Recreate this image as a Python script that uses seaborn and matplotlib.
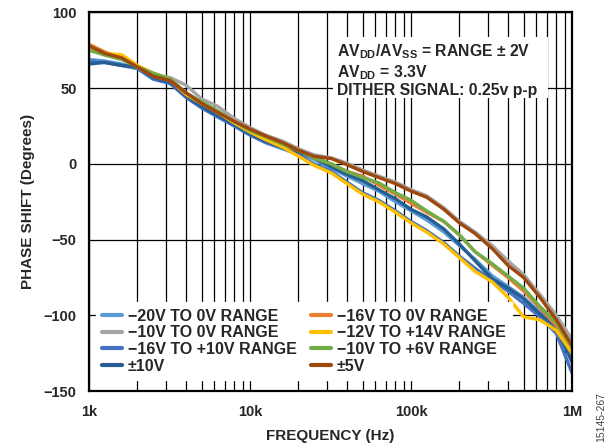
import matplotlib
matplotlib.use("Agg")
import matplotlib.pyplot as plt
import matplotlib.ticker as mticker
from matplotlib.patches import Rectangle
import numpy as np
import pandas as pd
import seaborn as sns

# frequency grid (Hz)
freq = [1e3, 1.25e3, 1.6e3, 2e3, 2.5e3, 3.2e3, 4e3, 5e3, 6.3e3, 8e3,
        10e3, 12.5e3, 16e3, 20e3, 25e3, 32e3, 40e3, 50e3, 63e3, 80e3,
        100e3, 125e3, 160e3, 200e3, 250e3, 320e3, 400e3, 500e3, 630e3, 800e3, 1e6]

# phase shift (degrees) per input range
ph_20_0 = [69, 68, 66, 63, 57, 54, 45, 38, 32, 26, 20, 15.5, 11, 7.5, 3, -3, -8, -13, -18, -25,
           -31, -37, -45, -54, -63, -74, -81, -88, -98, -108, -127]
ph_10_0 = [76, 72, 69, 65, 59, 57, 52, 43, 38, 30, 24, 19, 15, 10, 6, 4, 0.5, -4, -8, -12,
           -17, -21, -29, -38, -45, -54, -64, -73, -86, -100, -116]
ph_16_p10 = [68, 67, 65, 63, 56, 53, 44, 37, 31, 25, 19, 14, 10, 6, 0, -5, -12, -19, -24, -31,
             -38, -44, -52, -61, -69, -77, -84, -92, -101, -112, -138]
ph_pm10 = [66, 67, 65, 64, 57, 54, 45, 38, 32, 26, 20, 15, 11, 8, 4, -2, -7, -11, -17, -23,
           -30, -35, -43, -53, -64, -76, -82, -89, -99, -108, -131]
ph_16_0 = [79, 74, 70, 64, 58, 55, 46, 40, 34, 28, 22, 18, 13, 9, 4, 0, -5, -8, -14, -20,
           -26, -32, -38, -47, -58, -67, -75, -84, -95, -107, -122]
ph_12_p14 = [76, 73, 72, 65, 60, 56, 46, 40, 34, 27, 21, 16, 11, 5, -1, -6, -13, -20, -25, -32,
             -39, -45, -53, -62, -71, -78, -88, -101, -103, -110, -125]
ph_10_p6 = [75, 72, 69, 64, 60, 56, 47, 41, 35, 28, 22, 18, 13, 9, 4, 0, -5, -9, -12.5, -19,
            -24, -31, -38, -47, -58, -66, -74, -82, -94, -105, -121]
ph_pm5 = [78, 73, 70, 64, 58, 55, 47, 40, 34, 28, 23, 18.5, 14, 9, 5, 3.5, -0.5, -5, -9, -13,
          -18, -22, -30, -39, -46, -56, -67, -75, -88, -103, -120]

series_names = ["−20V TO 0V RANGE", "−10V TO 0V RANGE", "−16V TO +10V RANGE", "±10V",
                "−16V TO 0V RANGE", "−12V TO +14V RANGE", "−10V TO +6V RANGE", "±5V"]
series_vals = [ph_20_0, ph_10_0, ph_16_p10, ph_pm10, ph_16_0, ph_12_p14, ph_10_p6, ph_pm5]
colors = ["#5B9BD5", "#A5A5A5", "#4472C4", "#255E91",
          "#ED7D31", "#FFC000", "#70AD47", "#9E480E"]

df = pd.concat(
    [pd.DataFrame({"freq": freq, "phase": v, "range": n}) for n, v in zip(series_names, series_vals)],
    ignore_index=True,
)

sns.set_style("white")
plt.rcParams["font.family"] = ["Liberation Sans", "DejaVu Sans"]
plt.rcParams["font.weight"] = "bold"
plt.rcParams["mathtext.fontset"] = "custom"
plt.rcParams["mathtext.rm"] = "Liberation Sans:bold"
plt.rcParams["mathtext.it"] = "Liberation Sans:bold"
plt.rcParams["mathtext.bf"] = "Liberation Sans:bold"

fig = plt.figure(figsize=(6.1, 4.44), dpi=100)
ax = fig.add_axes([89 / 610, 53 / 444, 483 / 610, 378.5 / 444])

# draw order so the overlaps look like the original
draw_order = [1, 4, 5, 0, 2, 3, 6, 7]
for i in draw_order:
    sub = df[df["range"] == series_names[i]]
    sns.lineplot(data=sub, x="freq", y="phase", color=colors[i], lw=2.4,
                 label=series_names[i], ax=ax, zorder=2 + i * 0.01)

ax.set_xscale("log")
ax.set_xlim(1e3, 1e6)
ax.set_ylim(-150, 100)
ax.set_yticks([-150, -100, -50, 0, 50, 100])
ax.set_yticklabels(["−150", "−100", "−50", "0", "50", "100"])
ax.xaxis.set_major_locator(mticker.FixedLocator([1e3, 1e4, 1e5, 1e6]))
ax.set_xticklabels(["1k", "10k", "100k", "1M"])
ax.xaxis.set_minor_locator(mticker.LogLocator(base=10, subs=np.arange(2, 10)))
ax.xaxis.set_minor_formatter(mticker.NullFormatter())
ax.tick_params(axis="both", which="both", length=0, labelsize=10.5)
ax.tick_params(axis="x", pad=10)
ax.tick_params(axis="y", pad=9)

ax.set_axisbelow(True)
ax.grid(which="both", axis="x", color="black", lw=0.9)
ax.grid(which="major", axis="y", color="black", lw=0.9)
for sp in ax.spines.values():
    sp.set_color("black")
    sp.set_linewidth(1.6)

ax.set_xlabel("FREQUENCY (Hz)", fontsize=11, fontweight="bold", labelpad=7)
ax.set_ylabel("PHASE SHIFT (Degrees)", fontsize=11, fontweight="bold", labelpad=6)

# white box behind the conditions text
ax.add_patch(Rectangle((0.505, 0.774), 0.445, 0.161, transform=ax.transAxes,
                       facecolor="white", edgecolor="none", zorder=1))
ax.text(0.513, 0.92,
        "AV$_{DD}$/AV$_{SS}$ = RANGE ± 2V\nAV$_{DD}$ = 3.3V\nDITHER SIGNAL: 0.25v p-p",
        transform=ax.transAxes, ha="left", va="top", fontsize=11.3, fontweight="bold",
        linespacing=1.1, zorder=3)

handles, labels = ax.get_legend_handles_labels()
order = [labels.index(n) for n in series_names]
leg = ax.legend([handles[k] for k in order], [labels[k] for k in order],
                ncol=2, loc="lower left", bbox_to_anchor=(0.0145, 0.029),
                borderaxespad=0, frameon=True, fancybox=False, framealpha=1,
                edgecolor="white", facecolor="white", fontsize=11.5,
                handlelength=1.25, handletextpad=0.35, columnspacing=0.9,
                labelspacing=0.1, borderpad=0.4)
leg.set_zorder(5)
for t in leg.get_texts():
    t.set_fontweight("bold")
for h in leg.get_lines():
    h.set_linewidth(3)

fig.text(0.985, 0.005, "15145-267", rotation=90, fontsize=7.5, color="#444444",
         fontweight="normal", ha="center", va="bottom")

fig.savefig("out.png", dpi=100)
